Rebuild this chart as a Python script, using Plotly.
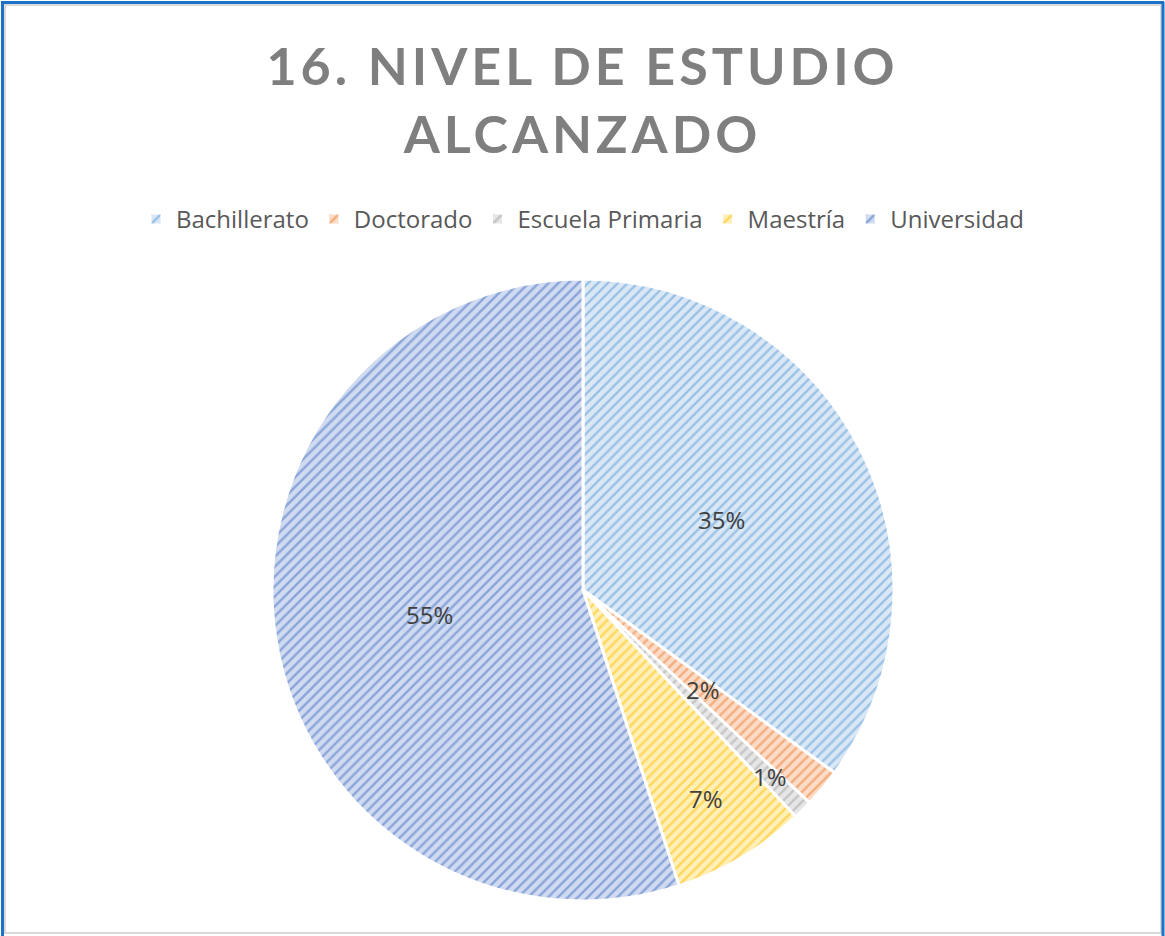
import math
import plotly.graph_objects as go

# Datos del gráfico
categorias = ["Bachillerato", "Doctorado", "Escuela Primaria", "Maestría", "Universidad"]
porcentajes = [35, 2, 1, 7, 55]
titulo = "16. NIVEL DE ESTUDIO<br>ALCANZADO"

# Colores (fondo claro + trama diagonal)
colores_trama = ["#5B9BD5", "#ED7D31", "#A5A5A5", "#FFC000", "#4472C4"]
colores_fondo = ["#DAE8F6", "#FBDCC8", "#E6E6E6", "#FFEFB8", "#D0DAF0"]

# Distancia de cada etiqueta al centro (fracción del radio), como "mejor ajuste" de Excel
radio_etiqueta = [0.5, 0.5, 0.85, 0.78, 0.5]

W, H = 1165, 936
FONT = "Lato, 'Open Sans', sans-serif"

# Posición del pastel (píxeles)
cx, cy, R = 583, 590, 311
dom_x = [(cx - R) / W, (cx + R) / W]
dom_y = [(H - cy - R) / H, (H - cy + R) / H]

fig = go.Figure()

fig.add_trace(go.Pie(
    labels=categorias,
    values=porcentajes,
    sort=False,
    direction="clockwise",
    rotation=0,
    marker=dict(
        colors=colores_fondo,
        line=dict(color="white", width=3),
        pattern=dict(shape="/", fillmode="overlay", fgcolor=colores_trama,
                     size=7, solidity=0.35),
    ),
    textinfo="none",
    hoverinfo="label+percent",
    domain=dict(x=dom_x, y=dom_y),
))

# Etiquetas de porcentaje en el ángulo medio de cada porción
total = sum(porcentajes)
acum = 0
anotaciones = []
for val, rf in zip(porcentajes, radio_etiqueta):
    medio = (acum + val / 2) / total * 2 * math.pi
    acum += val
    px_ = cx + rf * R * math.sin(medio)
    py_ = cy - rf * R * math.cos(medio)
    anotaciones.append(dict(
        x=px_ / W, y=1 - py_ / H, xref="paper", yref="paper",
        xanchor="center", yanchor="middle",
        text=f"{round(val / total * 100)}%", showarrow=False,
        font=dict(family="'Open Sans', sans-serif", size=24, color="#404040"),
    ))

# Marco del gráfico
shapes = [
    dict(type="rect", xref="paper", yref="paper",
         x0=5 / W, x1=1 - 4 / W, y0=3 / H, y1=1 - 5 / H,
         line=dict(color="#D9D9D9", width=2)),
    dict(type="line", xref="paper", yref="paper",
         x0=2.5 / W, x1=2.5 / W, y0=0, y1=1 - 2 / H,
         line=dict(color="#1C72C6", width=3)),
    dict(type="line", xref="paper", yref="paper",
         x0=1 / W, x1=1 - 1 / W, y0=1 - 2.5 / H, y1=1 - 2.5 / H,
         line=dict(color="#1C72C6", width=3)),
    dict(type="line", xref="paper", yref="paper",
         x0=1 - 2 / W, x1=1 - 2 / W, y0=0, y1=1 - 2 / H,
         line=dict(color="#1C72C6", width=3)),
]

esp = "<span style='letter-spacing:4px'>"
fig.update_layout(
    width=W,
    height=H,
    margin=dict(l=0, r=0, t=0, b=0),
    paper_bgcolor="white",
    plot_bgcolor="white",
    title=dict(
        text=esp + titulo.replace("<br>", "</span><br>" + esp) + "</span>",
        x=0.5, xanchor="center",
        y=1 - 85 / H, yanchor="top",
        font=dict(family=FONT, size=52, color="#7F7F7F", weight="bold"),
    ),
    legend=dict(
        orientation="h",
        x=0.5, xanchor="center",
        y=1 - 197 / H, yanchor="top",
        font=dict(family="'Open Sans', sans-serif", size=24, color="#595959"),
        traceorder="normal",
    ),
    shapes=shapes,
    annotations=anotaciones,
)

# quitar el margen por defecto del body para que el gráfico ocupe toda la ventana
fig.write_html("out.html", config={"displayModeBar": False},
               post_script="document.body.style.margin='0';")
